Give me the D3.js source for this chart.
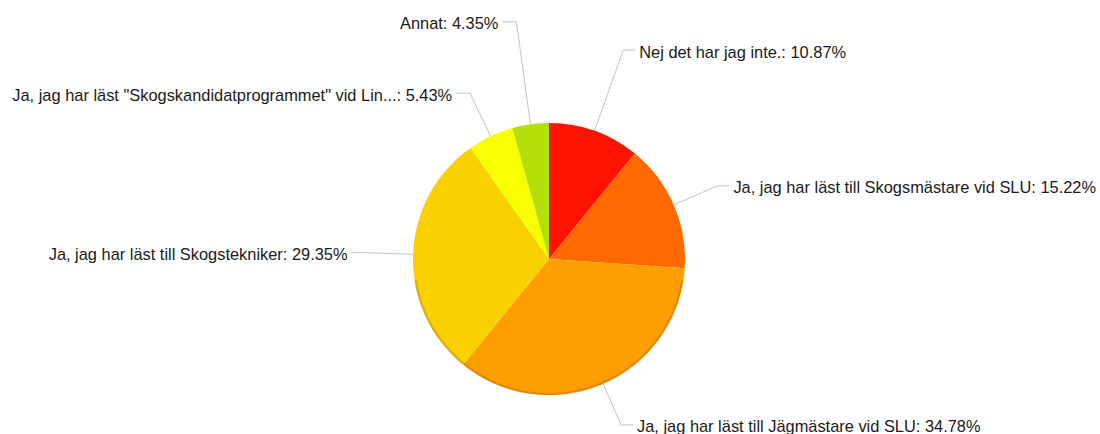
<!DOCTYPE html>
<html>
<head>
<meta charset="utf-8">
<script src="https://cdn.jsdelivr.net/npm/d3@7"></script>
<style>
  body { margin: 0; background: #fff; }
  text { font-family: "Liberation Sans", Arial, sans-serif; font-size: 16.4px; fill: #1a1a1a; }
</style>
</head>
<body>
<svg id="chart"></svg>
<script>
const labels = [
  "Nej det har jag inte.",
  "Ja, jag har läst till Skogsmästare vid SLU",
  "Ja, jag har läst till Jägmästare vid SLU",
  "Ja, jag har läst till Skogstekniker",
  "Ja, jag har läst \"Skogskandidatprogrammet\" vid Lin...",
  "Annat"
];
const values = [10.87, 15.22, 34.78, 29.35, 5.43, 4.35];
const colors = ["#ff1200", "#ff6a00", "#ff9e00", "#fbd000", "#f8ff00", "#b4df0a"];

const width = 1100, height = 434;
const cx = 549, cy = 259, radius = 136;

// how far the leader elbow sits from the centre (in radii), small top slices pushed out
const leaderLen = [1.63, 1.35, 1.33, 1.35, 1.35, 1.76];

const svg = d3.select("#chart").attr("width", width).attr("height", height);
const g = svg.append("g").attr("transform", `translate(${cx},${cy})`);

const data = labels.map((l, i) => ({ label: l, value: values[i], color: colors[i], idx: i }));
const pie = d3.pie().sort(null).value((d) => d.value);
const arcs = pie(data);
const arc = d3.arc().innerRadius(0).outerRadius(radius);

g.selectAll("path.slice")
  .data(arcs)
  .enter()
  .append("path")
  .attr("class", "slice")
  .attr("d", arc)
  .attr("fill", (d) => d.data.color);

// soft shadow along the lower rim
g.append("path")
  .attr("d", d3.arc().innerRadius(radius - 2).outerRadius(radius + 0.5)
    .startAngle(Math.PI * 0.55).endAngle(Math.PI * 1.45)())
  .attr("fill", "rgba(110,60,0,0.22)");

const pt = (a, r) => [r * Math.sin(a), -r * Math.cos(a)];

const labelG = g.selectAll("g.lab").data(arcs).enter().append("g").attr("class", "lab");

labelG.each(function (d) {
  const mid = (d.startAngle + d.endAngle) / 2;
  const p0 = pt(mid, radius);
  const p1 = pt(mid, radius * leaderLen[d.data.idx]);
  const right = Math.sin(mid) >= 0;
  const x2 = p1[0] + (right ? 12 : -14);
  const sel = d3.select(this);
  sel.append("polyline")
    .attr("points", [p0, p1, [x2, p1[1]]].map((p) => p.join(",")).join(" "))
    .attr("fill", "none")
    .attr("stroke", "#c4c4c4")
    .attr("stroke-width", 1);
  sel.append("text")
    .attr("x", x2 + (right ? 4 : -4))
    .attr("y", p1[1])
    .attr("dy", "0.45em")
    .attr("text-anchor", right ? "start" : "end")
    .text(`${d.data.label}: ${d3.format(".2f")(d.data.value)}%`);
});
</script>
</body>
</html>
